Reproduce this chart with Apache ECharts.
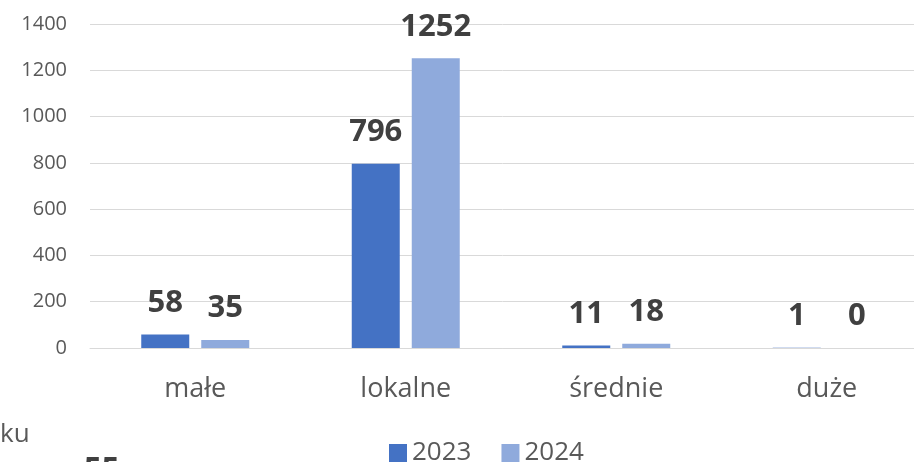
<!DOCTYPE html>
<html>
<head>
<meta charset="utf-8">
<script src="https://cdn.jsdelivr.net/npm/echarts@6/dist/echarts.min.js"></script>
<style>
  html, body { margin: 0; padding: 0; background: #fff; }
  #chart { width: 914px; height: 462px; }
</style>
</head>
<body>
<div id="chart"></div>
<script>
// data
const categories = ['małe', 'lokalne', 'średnie', 'duże'];
const values2023 = [58, 796, 11, 1];
const values2024 = [35, 1252, 18, 0];
const seriesNames = ['2023', '2024'];

const FONT = '"Open Sans", "Noto Sans", sans-serif';

const chart = echarts.init(document.getElementById('chart'));

const valueLabel = {
    show: true,
    position: 'top',
    distance: 16,
    fontFamily: FONT,
    fontSize: 31,
    fontWeight: 'bold',
    color: '#404040'
};

chart.setOption({
    animation: false,
    // plot runs past the right edge of the picture
    grid: { left: 90, width: 842, top: 24, bottom: 114, containLabel: false, outerBoundsMode: 'none' },
    legend: {
        data: seriesNames,
        bottom: -9,
        left: 384,
        itemWidth: 18,
        itemHeight: 18,
        itemGap: 30,
        icon: 'rect',
        textStyle: { fontFamily: FONT, fontSize: 26, color: '#595959' }
    },
    xAxis: {
        type: 'category',
        data: categories,
        axisLine: { show: true, lineStyle: { color: '#d9d9d9', width: 1 } },
        axisTick: { show: false },
        axisLabel: { fontFamily: FONT, fontSize: 27, color: '#595959', margin: 28 }
    },
    yAxis: {
        type: 'value',
        min: 0,
        max: 1400,
        interval: 200,
        axisLine: { show: false },
        axisTick: { show: false },
        splitLine: { lineStyle: { color: '#d9d9d9', width: 1 } },
        axisLabel: {
            fontFamily: FONT, fontSize: 20, color: '#595959', margin: 23,
            formatter: (v) => String(v)
        }
    },
    series: [
        {
            name: seriesNames[0],
            type: 'bar',
            data: values2023,
            barWidth: 48,
            barGap: '25%',
            itemStyle: { color: '#4472c4' },
            label: valueLabel
        },
        {
            name: seriesNames[1],
            type: 'bar',
            data: values2024,
            barWidth: 48,
            barGap: '25%',
            itemStyle: { color: '#8faadc' },
            label: valueLabel
        }
    ],
    graphic: [
        // stray text fragments cut off at the edges of the reference
        {
            type: 'text', left: 0, top: 422,
            style: { text: 'ku', x: -4, fontFamily: FONT, fontSize: 26, fill: '#595959' }
        },
        {
            type: 'text', left: 84, top: 455,
            style: { text: '55', fontFamily: FONT, fontSize: 31, fontWeight: 'bold', fill: '#404040' }
        }
    ]
});
</script>
</body>
</html>
